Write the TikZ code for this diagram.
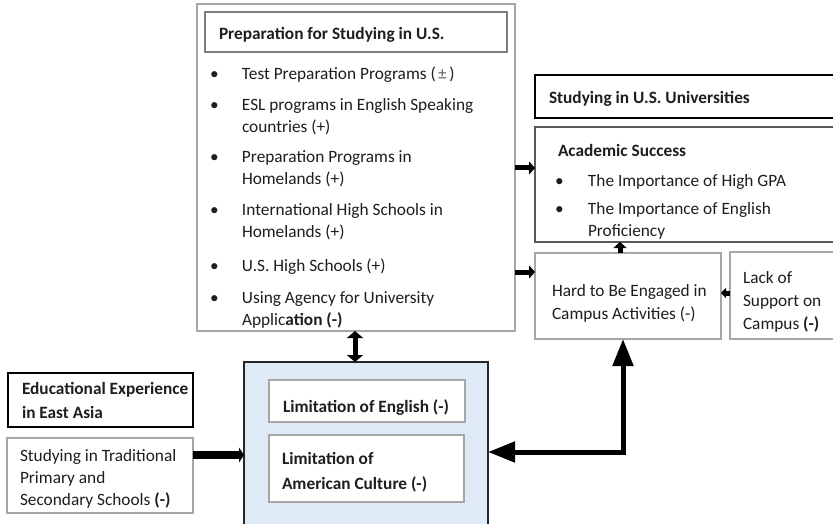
\documentclass[tikz,border=0pt]{standalone}
\usepackage{fontspec}
\setmainfont{Carlito}
\usetikzlibrary{arrows.meta}
\definecolor{lgray}{HTML}{A6A6A6}
\definecolor{mgray}{HTML}{7F7F7F}
\definecolor{dgray}{HTML}{595959}
\definecolor{bluefill}{HTML}{DEEAF6}
\definecolor{ink}{HTML}{1E1E1E}
\newcommand{\bl}[2][32pt]{\begin{tabular}[t]{@{}l@{}l@{}}\makebox[#1][l]{\textbullet}&#2\end{tabular}}
\newcommand{\rows}[2][1]{{\renewcommand{\arraystretch}{#1}\begin{tabular}[t]{@{}l@{}}#2\end{tabular}}}
\tikzset{
  boxbase/.style={anchor=north west, inner sep=0pt, outer sep=0pt},
  graybox/.style={boxbase, draw=lgray, line width=1.3pt, fill=white},
  darkbox/.style={boxbase, draw=black, line width=2pt, fill=white},
  txt/.style={anchor=base west, inner sep=0pt, outer sep=0pt, text=ink, yshift=-1.5pt},
  fat/.style={line width=5pt, -{Triangle[length=6pt,width=13pt]}},
}
\begin{document}
\begin{tikzpicture}[x=1pt,y=-1pt, font=\fontsize{17.3}{22}\selectfont]
\useasboundingbox (0,0) rectangle (833,524);
\clip (0,0) rectangle (833,524);
\fill[white] (0,0) rectangle (833,524);

% Preparation box
\node[graybox, minimum width=318pt, minimum height=327pt] (prep) at (197,4) {};
\node[boxbase, draw=mgray, line width=1.3pt, minimum width=302pt, minimum height=40pt] (preptitle) at (205,12) {};
\node[txt] (preptitletxt) at (219,38) {\textbf{Preparation for Studying in U.S.}};
\node[txt] (p1) at (210,78) {\bl{Test Preparation Programs (\hspace{2.5pt}{\color{ink!70}±}\hspace{2.5pt})}};
\node[txt] (p2) at (210,109) {\bl{ESL programs in English Speaking\\ & countries (+)}};
\node[txt] (p3) at (210,161) {\bl{Preparation Programs in\\ & Homelands (+)}};
\node[txt] (p4) at (210,214) {\bl{International High Schools in\\ & Homelands (+)}};
\node[txt] (p5) at (210,270) {\bl{U.S. High Schools (+)}};
\node[txt] (p6) at (210,302) {\bl{Using Agency for University\\ & Applic\textbf{ation (-)}}};

% Studying in U.S. Universities
\node[darkbox, minimum width=310pt, minimum height=43pt] (usu) at (535,75) {};
\node[txt] (usutxt) at (549,102) {\textbf{Studying in U.S. Universities}};
\node[boxbase, draw=dgray, line width=1.5pt, fill=white, minimum width=310pt, minimum height=115pt] (acad) at (535,127) {};
\node[txt] (acadtxt) at (558,155) {\textbf{Academic Success}};
\node[txt] (a1) at (555,185) {\bl[33pt]{The Importance of High GPA}};
\node[txt] (a2) at (555,213) {\bl[33pt]{The Importance of English\\ & Proficiency}};

\node[graybox, minimum width=186pt, minimum height=86pt] (hard) at (535,253) {};
\node[txt] (hardtxt) at (552,295) {\rows[1.045]{Hard to Be Engaged in\\Campus Activities (-)}};
\node[graybox, minimum width=110pt, minimum height=87pt] (lack) at (730,252) {};
\node[txt] (lacktxt) at (743,282) {\rows[1.045]{Lack of\\Support on\\Campus \textbf{(-)}}};

% East Asia
\node[darkbox, minimum width=185pt, minimum height=54pt] (edu) at (8,373) {};
\node[txt] (edutxt) at (22,393) {\rows[1.09]{\textbf{Educational Experience}\\\textbf{in East Asia}}};
\node[graybox, minimum width=186pt, minimum height=75pt] (trad) at (7,438) {};
\node[txt] (tradtxt) at (20,460) {\rows{Studying in Traditional\\Primary and\\Secondary Schools \textbf{(-)}}};

% Limitations
\node[boxbase, draw=black!85, line width=2pt, fill=bluefill, minimum width=244pt, minimum height=172pt] (blue) at (244,362) {};
\node[graybox, line width=1.5pt, minimum width=196pt, minimum height=42pt] (eng) at (269,380) {};
\node[txt] (engtxt) at (283,411) {\textbf{Limitation of English (-)}};
\node[graybox, line width=1.5pt, minimum width=195pt, minimum height=67pt] (cul) at (269,435) {};
\node[txt] (cultxt) at (282,463) {\rows[1.13]{\textbf{Limitation of}\\\textbf{American Culture (-)}}};

% Connectors
\draw[fat] (prep.east |- 0,168) -- (acad.west |- 0,168);
\draw[fat] (prep.east |- 0,272) -- (hard.west |- 0,272);
\draw[fat] (hard.north -| 620,0) -- (acad.south -| 620,0);
\draw[line width=5pt, -{Triangle[length=5pt,width=10pt]}] (lack.west |- 0,293) -- (hard.east |- 0,293);
\draw[line width=5pt, {Triangle[length=7pt,width=16pt]}-{Triangle[length=7pt,width=16pt]}] (prep.south -| 355,0) -- (blue.north -| 355,0);
\draw[line width=8pt, -{Triangle[length=5pt,width=15pt]}] (trad.east |- 0,455) -- (blue.west |- 0,455);
\draw[line width=5pt, line join=miter, {Triangle[length=27pt,width=20pt]}-{Triangle[length=27pt,width=20pt]}] (blue.east |- 0,452) -| (hard.south -| 623,0);
\end{tikzpicture}
\end{document}
